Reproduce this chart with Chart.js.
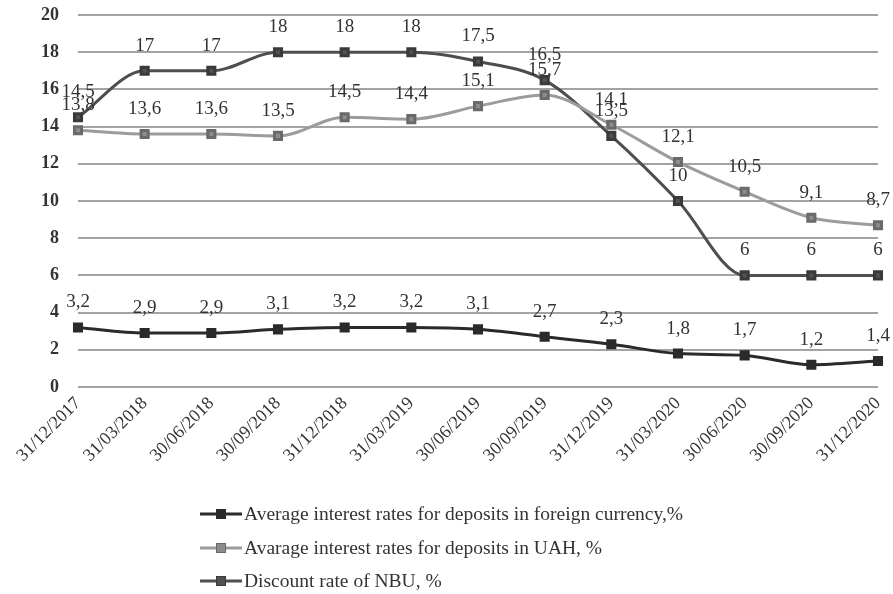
<!DOCTYPE html>
<html>
<head>
<meta charset="utf-8">
<script src="https://cdn.jsdelivr.net/npm/chart.js@4/dist/chart.umd.min.js"></script>
<style>
  html, body { margin: 0; padding: 0; background: #fff; }
  #wrap { width: 893px; height: 594px; }
</style>
</head>
<body>
<div id="wrap"><canvas id="c" width="893" height="594"></canvas></div>
<script>
const quarters = ['31/12/2017','31/03/2018','30/06/2018','30/09/2018','31/12/2018','31/03/2019','30/06/2019','30/09/2019','31/12/2019','31/03/2020','30/06/2020','30/09/2020','31/12/2020'];
const foreignRates = [3.2, 2.9, 2.9, 3.1, 3.2, 3.2, 3.1, 2.7, 2.3, 1.8, 1.7, 1.2, 1.4];
const uahRates = [13.8, 13.6, 13.6, 13.5, 14.5, 14.4, 15.1, 15.7, 14.1, 12.1, 10.5, 9.1, 8.7];
const nbuRates = [14.5, 17, 17, 18, 18, 18, 17.5, 16.5, 13.5, 10, 6, 6, 6];
const yTicks = [0, 2, 4, 6, 8, 10, 12, 14, 16, 18, 20];

const SERIF = '"Liberation Serif", "DejaVu Serif", serif';
const fmt = v => String(v).replace('.', ',');

// value labels above each point
const valueLabels = {
  id: 'valueLabels',
  afterDatasetsDraw(chart) {
    const ctx = chart.ctx;
    ctx.save();
    ctx.font = '19px ' + SERIF;
    ctx.fillStyle = '#333';
    ctx.textAlign = 'center';
    ctx.textBaseline = 'middle';
    chart.data.datasets.forEach((ds, i) => {
      chart.getDatasetMeta(i).data.forEach((pt, j) => {
        ctx.fillText(fmt(ds.data[j]), pt.x, pt.y - 25);
      });
    });
    ctx.restore();
  }
};

// stacked legend under the axis labels
const stackedLegend = {
  id: 'stackedLegend',
  afterDraw(chart) {
    const ctx = chart.ctx;
    const rows = [514, 548, 581];
    ctx.save();
    chart.data.datasets.forEach((ds, i) => {
      const y = rows[i];
      ctx.strokeStyle = ds.borderColor;
      ctx.lineWidth = 3;
      ctx.beginPath();
      ctx.moveTo(200, y);
      ctx.lineTo(242, y);
      ctx.stroke();
      ctx.fillStyle = ds.pointBackgroundColor;
      ctx.strokeStyle = ds.pointBorderColor;
      ctx.lineWidth = 1;
      ctx.fillRect(216.5, y - 4.5, 9, 9);
      ctx.strokeRect(216.5, y - 4.5, 9, 9);
      ctx.fillStyle = '#333';
      ctx.font = '19.5px ' + SERIF;
      ctx.textAlign = 'left';
      ctx.textBaseline = 'middle';
      ctx.fillText(ds.label, 244, y + 1);
    });
    ctx.restore();
  }
};

const lineStyle = {
  borderWidth: 3,
  pointStyle: 'rect',
  pointRadius: 5,
  cubicInterpolationMode: 'monotone'
};

new Chart(document.getElementById('c'), {
  type: 'line',
  data: {
    labels: quarters,
    datasets: [
      Object.assign({
        label: 'Average interest rates for deposits in foreign currency,%',
        data: foreignRates,
        borderColor: '#2a2a2a',
        pointBackgroundColor: '#2a2a2a',
        pointBorderColor: '#2a2a2a'
      }, lineStyle),
      Object.assign({
        label: 'Avarage interest rates for deposits in UAH, %',
        data: uahRates,
        borderColor: '#9c9c9c',
        pointBackgroundColor: '#8c8c8c',
        pointBorderColor: '#6a6a6a'
      }, lineStyle),
      Object.assign({
        label: 'Discount rate of NBU, %',
        data: nbuRates,
        borderColor: '#4e4e4e',
        pointBackgroundColor: '#525252',
        pointBorderColor: '#3a3a3a'
      }, lineStyle)
    ]
  },
  options: {
    responsive: false,
    animation: false,
    devicePixelRatio: 1,
    layout: { padding: { top: 15, right: 15, bottom: 0, left: 0 } },
    plugins: {
      legend: { display: false },
      tooltip: { enabled: false }
    },
    scales: {
      x: {
        offset: false,
        grid: { display: false, drawTicks: false },
        border: { display: false },
        ticks: {
          minRotation: 45,
          maxRotation: 45,
          autoSkip: false,
          padding: 6,
          color: '#333',
          font: { family: SERIF, size: 18 }
        },
        afterFit(scale) {
          scale.height = 207;
          scale.paddingLeft = 0;
          scale.paddingRight = 0;
        }
      },
      y: {
        min: 0,
        max: 20,
        afterBuildTicks(scale) { scale.ticks = yTicks.map(v => ({ value: v })); },
        grid: { color: '#a3a3a3', lineWidth: 2, drawTicks: false },
        border: { display: false },
        ticks: {
          padding: 19,
          color: '#333',
          font: { family: SERIF, size: 18, weight: 'bold' }
        },
        afterFit(scale) {
          scale.width = 78;
          scale.paddingTop = 0;
          scale.paddingBottom = 0;
        }
      }
    }
  },
  plugins: [valueLabels, stackedLegend]
});
</script>
</body>
</html>
